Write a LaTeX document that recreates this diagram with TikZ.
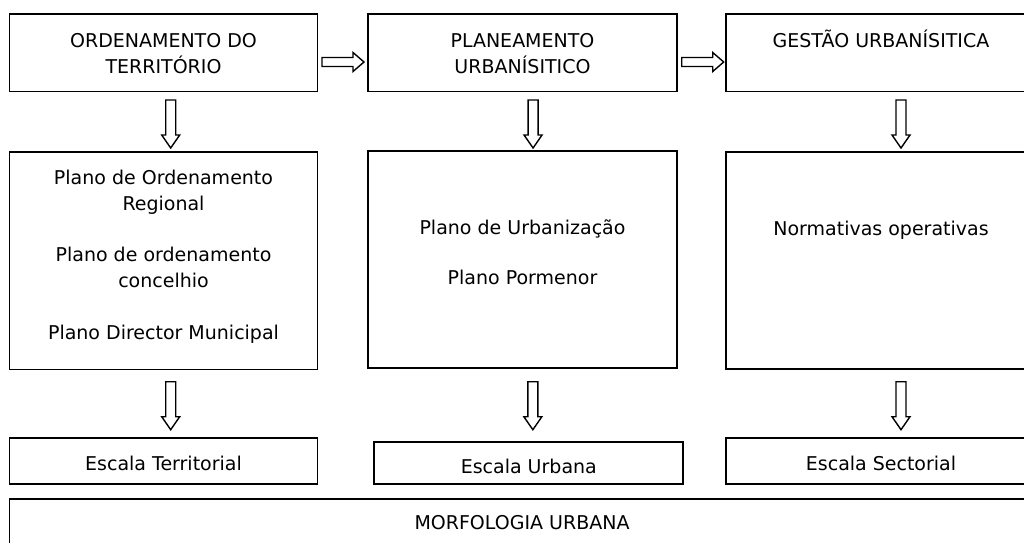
\documentclass[tikz,border=0pt]{standalone}
\usepackage{fontspec}
\setmainfont{DejaVu Sans}
\usetikzlibrary{calc}
\tikzset{
  box/.style={draw=black, line width=1.8pt, fill=none, inner sep=0pt, outer sep=0pt},
  txt/.style={anchor=base, inner sep=0pt, font=\fontsize{19}{25.8}\selectfont, text=black},
  blk/.style={draw=black, line width=1.4pt, fill=white, line join=miter}
}
\newcommand\harr[1]{%
  \draw[blk] ($(#1)+(0,-4.5)$) -- ++(31,0) -- ++(0,-5) -- ++(11,9.5) -- ++(-11,9.5) -- ++(0,-5) -- ++(-31,0) -- cycle;}
\newcommand\varr[1]{%
  \draw[blk] ($(#1)+(-5,0)$) -- ++(0,35) -- ++(-4,0) -- ++(9,13) -- ++(9,-13) -- ++(-4,0) -- ++(0,-35) -- cycle;}
\begin{document}
\begin{tikzpicture}[x=1pt,y=-1pt]
\useasboundingbox (0,0) rectangle (1024,542);
\clip (0,0) rectangle (1024,542);
\fill[white] (0,0) rectangle (1024,542);
% boxes
\node[box, minimum width=308,   minimum height=77.2] (A1) at (163.5,52.9) {};
\node[box, minimum width=308.7, minimum height=77.2] (A2) at (522.65,52.9) {};
\node[box, minimum width=310,   minimum height=77.2] (A3) at (881,52.9) {};
\node[box, minimum width=308,   minimum height=217.5] (B1) at (163.5,260.75) {};
\node[box, minimum width=308.7, minimum height=217] (B2) at (522.65,259.2) {};
\node[box, minimum width=310,   minimum height=217.6] (B3) at (881,260.5) {};
\node[box, minimum width=308,   minimum height=45.7] (C1) at (163.5,461.15) {};
\node[box, minimum width=309,   minimum height=42.3] (C2) at (528.8,462.85) {};
\node[box, minimum width=310.3, minimum height=46.3] (C3) at (880.85,460.85) {};
\node[box, minimum width=1026.5, minimum height=80.7] (D) at (522.75,539.65) {};
% texts
\node[txt] (a1l1) at (163.5,47) {ORDENAMENTO DO};
\node[txt] (a1l2) at (163.5,73) {TERRITÓRIO};
\node[txt] (a2l1) at (522.5,47) {PLANEAMENTO};
\node[txt] (a2l2) at (522.5,73) {URBANÍSITICO};
\node[txt] (a3l1) at (881,47) {GESTÃO URBANÍSITICA};
\node[txt] (b1l1) at (163.5,184) {Plano de Ordenamento};
\node[txt] (b1l2) at (163.5,210) {Regional};
\node[txt] (b1l3) at (163.5,261) {Plano de ordenamento};
\node[txt] (b1l4) at (163.5,287) {concelhio};
\node[txt] (b1l5) at (163.5,339) {Plano Director Municipal};
\node[txt] (b2l1) at (522.5,234) {Plano de Urbanização};
\node[txt] (b2l2) at (522.5,284) {Plano Pormenor};
\node[txt] (b3l1) at (881,235) {Normativas operativas};
\node[txt] (c1l1) at (163.5,470) {Escala Territorial};
\node[txt] (c2l1) at (528.8,473) {Escala Urbana};
\node[txt] (c3l1) at (881,470) {Escala Sectorial};
\node[txt] (dl1)  at (522,529) {MORFOLOGIA URBANA};
% horizontal block arrows
\coordinate (h1) at ($(A1.south east)+(4.5,-29.5)$);
\coordinate (h2) at ($(A2.south east)+(4.7,-29.5)$);
\harr{h1}
\harr{h2}
% vertical block arrows
\coordinate (v1) at ($(A1.south)+(7.2,8.5)$);
\coordinate (v2) at ($(A2.south)+(10.4,8.5)$);
\coordinate (v3) at ($(A3.south)+(20,8.5)$);
\coordinate (v4) at ($(B1.south)+(7.2,12.2)$);
\coordinate (v5) at ($(B2.south)+(10.2,14)$);
\coordinate (v6) at ($(B3.south)+(20,12.4)$);
\varr{v1}\varr{v2}\varr{v3}\varr{v4}\varr{v5}\varr{v6}
\end{tikzpicture}
\end{document}
